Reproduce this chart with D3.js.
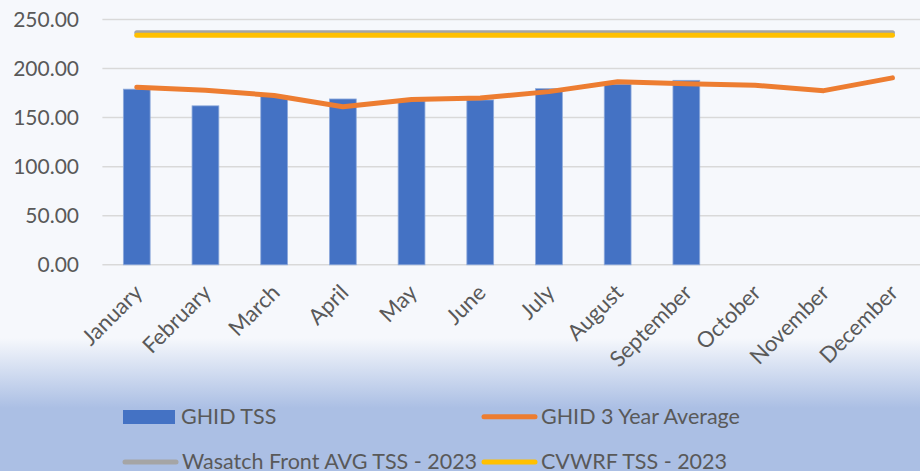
<html lang="en"><head>
<meta charset="utf-8">
<script src="https://d3js.org/d3.v7.min.js"></script>
<style>
  body { margin: 0; }
  text { font-family: Lato, "Open Sans", sans-serif; fill: #595959; }
</style>
</head><body>
<div id="chart"></div>
<script>
// chart data
var months = ["January", "February", "March", "April", "May", "June",
              "July", "August", "September", "October", "November", "December"];
var ghidTss = [179, 162, 172, 169, 167, 168, 179.5, 184, 188, null, null, null];
var ghidAvg = [181, 178, 172.5, 161, 168.5, 170, 176.5, 186.5, 184.5, 183, 177.5, 190.5];
var wasatchAvg = [236.5, 236.5, 236.5, 236.5, 236.5, 236.5, 236.5, 236.5, 236.5, 236.5, 236.5, 236.5];
var cvwrfTss = [234, 234, 234, 234, 234, 234, 234, 234, 234, 234, 234, 234];
var yTicks = [0, 50, 100, 150, 200, 250];

var width = 920, height = 471;

var svg = d3.select("#chart").append("svg")
    .attr("width", width)
    .attr("height", height);

// background
var grad = svg.append("defs").append("linearGradient")
    .attr("id", "bg").attr("x1", 0).attr("y1", 0).attr("x2", 0).attr("y2", 1);
grad.append("stop").attr("offset", 338 / height).attr("stop-color", "#f6f8fc");
grad.append("stop").attr("offset", 408 / height).attr("stop-color", "#abbfe4");
svg.append("rect").attr("width", width).attr("height", height).attr("fill", "url(#bg)");

var x = d3.scaleBand()
    .domain(months)
    .range([102.4, 926.8])
    .paddingInner(0.61)
    .paddingOuter(0.305);

var y = d3.scaleLinear()
    .domain([0, 250])
    .range([264.8, 19.5]);

var cx = d => x(d) + x.bandwidth() / 2;

// gridlines
svg.append("g")
    .selectAll("line")
    .data(yTicks)
    .join("line")
    .attr("x1", 102.4).attr("x2", width)
    .attr("y1", d => y(d)).attr("y2", d => y(d))
    .attr("stroke", "#d9d9d9")
    .attr("stroke-width", 1.5);

// y axis labels
svg.append("g")
    .selectAll("text")
    .data(yTicks)
    .join("text")
    .attr("x", 79)
    .attr("y", d => y(d))
    .attr("dy", "0.35em")
    .attr("text-anchor", "end")
    .style("font-size", "21px")
    .text(d => d3.format(".2f")(d));

// x axis labels
svg.append("g")
    .selectAll("text")
    .data(months)
    .join("text")
    .attr("transform", d => `translate(${cx(d) + 7},${294}) rotate(-45)`)
    .attr("text-anchor", "end")
    .style("font-size", "22px")
    .text(d => d);

// bars
svg.append("g")
    .selectAll("rect")
    .data(months.map((m, i) => ({ m: m, v: ghidTss[i] })).filter(d => d.v != null))
    .join("rect")
    .attr("x", d => x(d.m))
    .attr("y", d => y(d.v))
    .attr("width", x.bandwidth())
    .attr("height", d => y(0) - y(d.v))
    .attr("fill", "#4472c4")
    .attr("stroke", "#8eaadb")
    .attr("stroke-width", 0.8);

var line = d3.line()
    .x((d, i) => cx(months[i]))
    .y(d => y(d));

function drawLine(values, color) {
    svg.append("path")
        .datum(values)
        .attr("d", line)
        .attr("fill", "none")
        .attr("stroke", color)
        .attr("stroke-width", 5)
        .attr("stroke-linecap", "round")
        .attr("stroke-linejoin", "round");
}
drawLine(ghidAvg, "#ed7d31");
drawLine(wasatchAvg, "#a5a5a5");
drawLine(cvwrfTss, "#ffc000");

// legend
var legend = svg.append("g");
legend.append("rect")
    .attr("x", 123).attr("y", 410).attr("width", 52).attr("height", 14)
    .attr("fill", "#4472c4");
legend.append("text").attr("x", 181).attr("y", 423.5).style("font-size", "21.5px").text("GHID TSS");

var legendLines = [
    { x: 482, y: 416.7, color: "#ed7d31", label: "GHID 3 Year Average" },
    { x: 123, y: 462, color: "#a5a5a5", label: "Wasatch Front AVG TSS - 2023" },
    { x: 482, y: 462, color: "#ffc000", label: "CVWRF TSS - 2023" }
];
legendLines.forEach(function (d) {
    legend.append("line")
        .attr("x1", d.x + 2).attr("x2", d.x + 53)
        .attr("y1", d.y).attr("y2", d.y)
        .attr("stroke", d.color)
        .attr("stroke-width", 5)
        .attr("stroke-linecap", "round");
    legend.append("text")
        .attr("x", d.x + 59)
        .attr("y", d.y + 7)
        .style("font-size", "21.5px")
        .text(d.label);
});
</script>
</body></html>
